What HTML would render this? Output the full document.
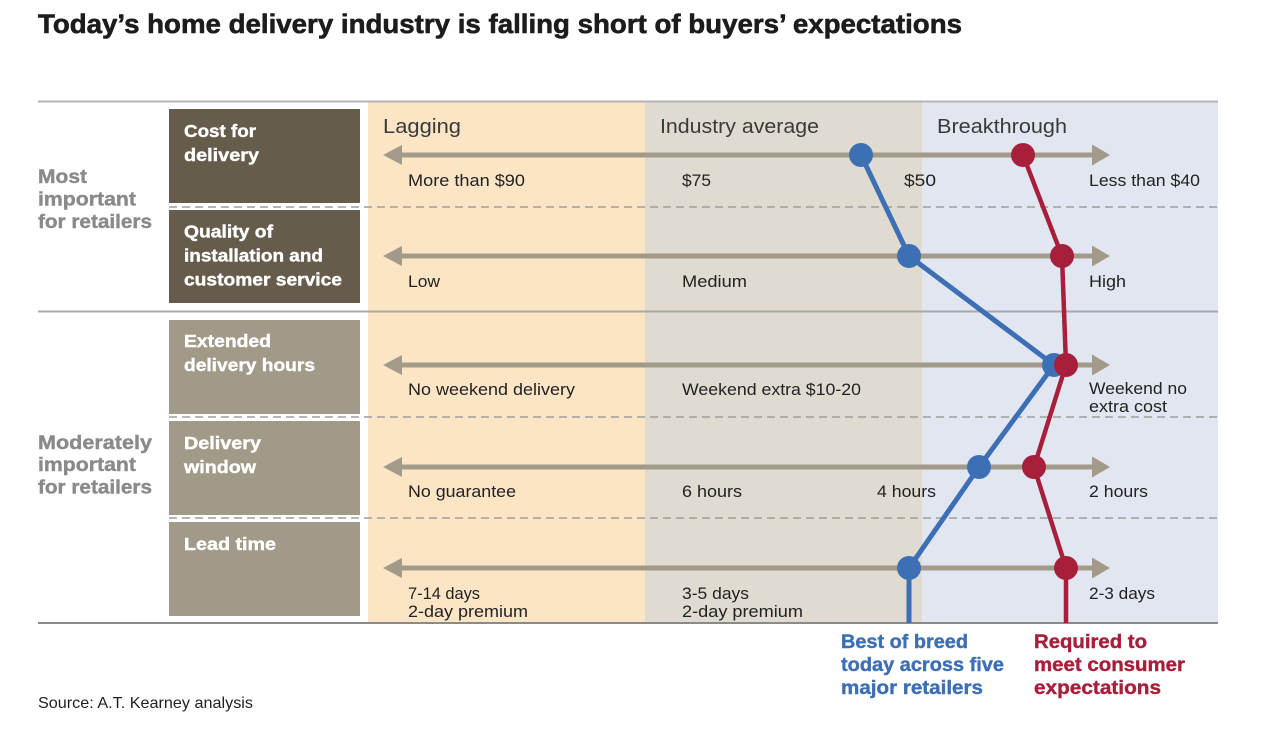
<!DOCTYPE html>
<html>
<head>
<meta charset="utf-8">
<style>
html,body{margin:0;padding:0;background:#fff;}
svg{display:block;}
text{font-family:"Liberation Sans", sans-serif;}
</style>
</head>
<body>
<svg width="1272" height="740" viewBox="0 0 1272 740" xmlns="http://www.w3.org/2000/svg">
  <!-- Title -->
  <text x="38" y="33" font-size="26.5" font-weight="bold" fill="#1c1c1c" stroke="#1c1c1c" stroke-width="0.6" textLength="924" lengthAdjust="spacingAndGlyphs">Today’s home delivery industry is falling short of buyers’ expectations</text>

  <!-- Background bands -->
  <rect x="368" y="102.5" width="277" height="520" fill="#fce5c5"/>
  <rect x="645" y="102.5" width="277" height="520" fill="#e0dbd0"/>
  <rect x="922" y="102.5" width="296" height="520" fill="#e1e6f1"/>

  <!-- Horizontal rules -->
  <line x1="38" y1="101.5" x2="1218" y2="101.5" stroke="#b4b4b4" stroke-width="2"/>
  <line x1="38" y1="311.5" x2="1218" y2="311.5" stroke="#a8a8a8" stroke-width="2"/>
  <line x1="38" y1="623" x2="1218" y2="623" stroke="#8a8a8a" stroke-width="2"/>
  <g stroke="#9e9e9e" stroke-width="1.5" stroke-dasharray="8 5">
    <line x1="169" y1="207" x2="1218" y2="207"/>
    <line x1="169" y1="417" x2="1218" y2="417"/>
    <line x1="169" y1="518" x2="1218" y2="518"/>
  </g>

  <!-- Category boxes -->
  <rect x="169" y="109" width="191" height="94" fill="#665c4b"/>
  <rect x="169" y="210" width="191" height="93" fill="#665c4b"/>
  <rect x="169" y="320" width="191" height="94" fill="#a29a89"/>
  <rect x="169" y="421" width="191" height="94" fill="#a29a89"/>
  <rect x="169" y="522" width="191" height="94" fill="#a29a89"/>

  <g fill="#ffffff" stroke="#ffffff" stroke-width="0.4" font-weight="bold" font-size="17.5">
    <text x="184" y="137" textLength="72" lengthAdjust="spacingAndGlyphs">Cost for</text>
    <text x="184" y="161" textLength="75" lengthAdjust="spacingAndGlyphs">delivery</text>
    <text x="184" y="237.5" textLength="89" lengthAdjust="spacingAndGlyphs">Quality of</text>
    <text x="184" y="261.5" textLength="139" lengthAdjust="spacingAndGlyphs">installation and</text>
    <text x="184" y="285.5" textLength="158" lengthAdjust="spacingAndGlyphs">customer service</text>
    <text x="184" y="347" textLength="87" lengthAdjust="spacingAndGlyphs">Extended</text>
    <text x="184" y="371" textLength="131" lengthAdjust="spacingAndGlyphs">delivery hours</text>
    <text x="184" y="449" textLength="77" lengthAdjust="spacingAndGlyphs">Delivery</text>
    <text x="184" y="473" textLength="72" lengthAdjust="spacingAndGlyphs">window</text>
    <text x="184" y="550" textLength="92" lengthAdjust="spacingAndGlyphs">Lead time</text>
  </g>

  <!-- Left group labels -->
  <g fill="#8a8a8a" stroke="#8a8a8a" stroke-width="0.4" font-weight="bold" font-size="19">
    <text x="38" y="183" textLength="49" lengthAdjust="spacingAndGlyphs">Most</text>
    <text x="38" y="205.5" textLength="98" lengthAdjust="spacingAndGlyphs">important</text>
    <text x="38" y="228" textLength="114" lengthAdjust="spacingAndGlyphs">for retailers</text>
    <text x="38" y="449" textLength="114" lengthAdjust="spacingAndGlyphs">Moderately</text>
    <text x="38" y="471" textLength="98" lengthAdjust="spacingAndGlyphs">important</text>
    <text x="38" y="493.5" textLength="114" lengthAdjust="spacingAndGlyphs">for retailers</text>
  </g>

  <!-- Column headers -->
  <g fill="#3a3a3a" font-size="20">
    <text x="383" y="133" textLength="78" lengthAdjust="spacingAndGlyphs">Lagging</text>
    <text x="660" y="133" textLength="159" lengthAdjust="spacingAndGlyphs">Industry average</text>
    <text x="937" y="133" textLength="130" lengthAdjust="spacingAndGlyphs">Breakthrough</text>
  </g>

  <!-- Arrows -->
  <g fill="#a39b8a">
    <rect x="400" y="152.5" width="694" height="5"/>
    <polygon points="383,155 402,145 402,165"/>
    <polygon points="1110,155 1092,144.5 1092,165.5"/>
    <rect x="400" y="253.5" width="694" height="5"/>
    <polygon points="383,256 402,246 402,266"/>
    <polygon points="1110,256 1092,245.5 1092,266.5"/>
    <rect x="400" y="362.5" width="694" height="5"/>
    <polygon points="383,365 402,355 402,375"/>
    <polygon points="1110,365 1092,354.5 1092,375.5"/>
    <rect x="400" y="464.5" width="694" height="5"/>
    <polygon points="383,467 402,457 402,477"/>
    <polygon points="1110,467 1092,456.5 1092,477.5"/>
    <rect x="400" y="565.5" width="694" height="5"/>
    <polygon points="383,568 402,558 402,578"/>
    <polygon points="1110,568 1092,557.5 1092,578.5"/>
  </g>

  <!-- Data labels -->
  <g fill="#222222" font-size="17">
    <text x="408" y="186" textLength="117" lengthAdjust="spacingAndGlyphs">More than $90</text>
    <text x="682" y="186" textLength="29" lengthAdjust="spacingAndGlyphs">$75</text>
    <text x="904" y="186" textLength="32" lengthAdjust="spacingAndGlyphs">$50</text>
    <text x="1089" y="186" textLength="111" lengthAdjust="spacingAndGlyphs">Less than $40</text>

    <text x="408" y="287" textLength="32" lengthAdjust="spacingAndGlyphs">Low</text>
    <text x="682" y="287" textLength="65" lengthAdjust="spacingAndGlyphs">Medium</text>
    <text x="1089" y="287" textLength="37" lengthAdjust="spacingAndGlyphs">High</text>

    <text x="408" y="395" textLength="167" lengthAdjust="spacingAndGlyphs">No weekend delivery</text>
    <text x="682" y="395" textLength="179" lengthAdjust="spacingAndGlyphs">Weekend extra $10-20</text>
    <text x="1089" y="394" textLength="98" lengthAdjust="spacingAndGlyphs">Weekend no</text>
    <text x="1089" y="412" textLength="78" lengthAdjust="spacingAndGlyphs">extra cost</text>

    <text x="408" y="497" textLength="108" lengthAdjust="spacingAndGlyphs">No guarantee</text>
    <text x="682" y="497" textLength="60" lengthAdjust="spacingAndGlyphs">6 hours</text>
    <text x="877" y="497" textLength="59" lengthAdjust="spacingAndGlyphs">4 hours</text>
    <text x="1089" y="497" textLength="59" lengthAdjust="spacingAndGlyphs">2 hours</text>

    <text x="408" y="599" textLength="72" lengthAdjust="spacingAndGlyphs">7-14 days</text>
    <text x="408" y="617" textLength="120" lengthAdjust="spacingAndGlyphs">2-day premium</text>
    <text x="682" y="599" textLength="67" lengthAdjust="spacingAndGlyphs">3-5 days</text>
    <text x="682" y="617" textLength="121" lengthAdjust="spacingAndGlyphs">2-day premium</text>
    <text x="1089" y="599" textLength="66" lengthAdjust="spacingAndGlyphs">2-3 days</text>
  </g>

  <!-- Series lines -->
  <polyline points="861,155 909,256 1054,365 979,467 909,568 909,623" fill="none" stroke="#3d6fb5" stroke-width="5" stroke-linejoin="round"/>
  <g fill="#3d6fb5">
    <circle cx="861" cy="155" r="12"/>
    <circle cx="909" cy="256" r="12"/>
    <circle cx="1054" cy="365" r="12"/>
    <circle cx="979" cy="467" r="12"/>
    <circle cx="909" cy="568" r="12"/>
  </g>
  <polyline points="1023,155 1062,256 1066,365 1034,467 1066,568 1066,623" fill="none" stroke="#a81f3b" stroke-width="4.5" stroke-linejoin="round"/>
  <g fill="#a81f3b">
    <circle cx="1023" cy="155" r="12"/>
    <circle cx="1062" cy="256" r="12"/>
    <circle cx="1066" cy="365" r="12"/>
    <circle cx="1034" cy="467" r="12"/>
    <circle cx="1066" cy="568" r="12"/>
  </g>

  <!-- Series labels -->
  <g font-weight="bold" font-size="19" stroke-width="0.4">
    <text x="841" y="648" fill="#3d6fb5" stroke="#3d6fb5" textLength="127" lengthAdjust="spacingAndGlyphs">Best of breed</text>
    <text x="841" y="671" fill="#3d6fb5" stroke="#3d6fb5" textLength="163" lengthAdjust="spacingAndGlyphs">today across five</text>
    <text x="841" y="694" fill="#3d6fb5" stroke="#3d6fb5" textLength="142" lengthAdjust="spacingAndGlyphs">major retailers</text>
    <text x="1034" y="648" fill="#a81f3b" stroke="#a81f3b" textLength="113" lengthAdjust="spacingAndGlyphs">Required to</text>
    <text x="1034" y="671" fill="#a81f3b" stroke="#a81f3b" textLength="151" lengthAdjust="spacingAndGlyphs">meet consumer</text>
    <text x="1034" y="694" fill="#a81f3b" stroke="#a81f3b" textLength="127" lengthAdjust="spacingAndGlyphs">expectations</text>
  </g>

  <!-- Source -->
  <text x="38" y="708" font-size="16" fill="#222222" textLength="215" lengthAdjust="spacingAndGlyphs">Source: A.T. Kearney analysis</text>
</svg>
</body>
</html>
